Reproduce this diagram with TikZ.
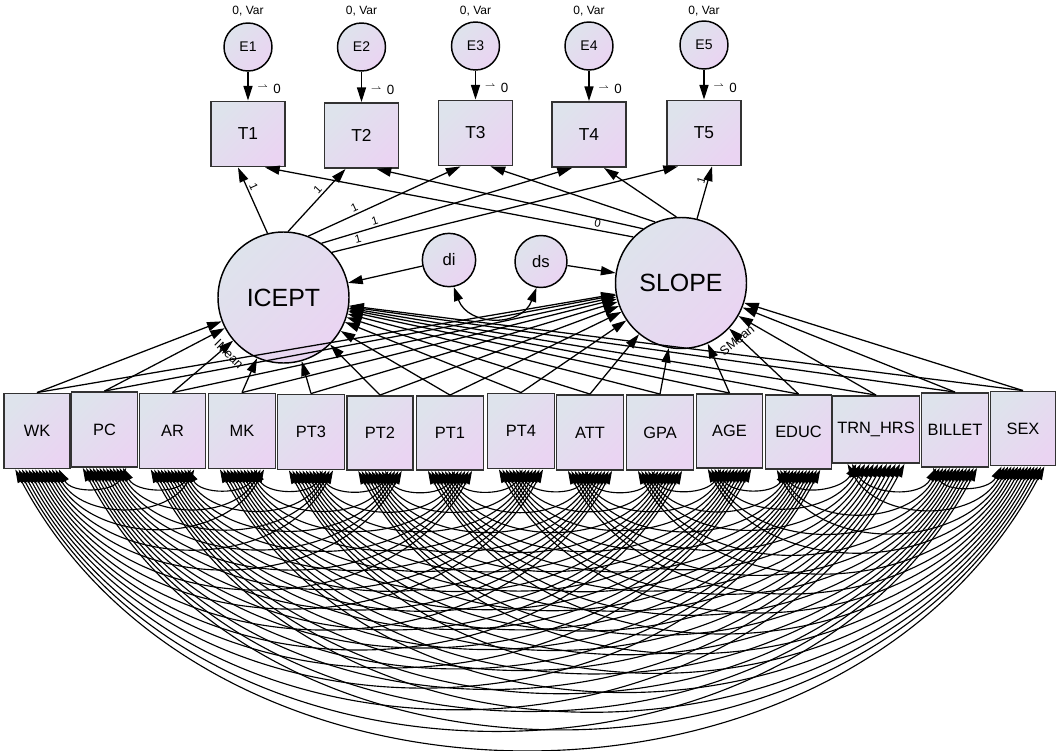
\documentclass[tikz,border=0pt]{standalone}
\usepackage{fontspec}
\setmainfont{Liberation Sans}
\usetikzlibrary{arrows.meta,calc}
\definecolor{shadeTL}{RGB}{222,227,236}
\definecolor{shadeBR}{RGB}{234,212,242}
\definecolor{boxline}{RGB}{50,50,50}
\begin{document}
\begin{tikzpicture}[x=0.75pt,y=-0.75pt,
  fillgrad/.style={top color=shadeTL,bottom color=shadeBR,shading angle=45},
  obsbox/.style={fillgrad,draw=boxline,line width=1.4pt,rectangle,inner sep=0pt},
  latent/.style={fillgrad,draw=black,line width=1.1pt,circle,inner sep=0pt},
  regpath/.style={line width=0.95pt,-{Triangle[length=11pt,width=6.8pt]}},
  dcov/.style={line width=0.95pt,{Triangle[length=10.5pt,width=6.8pt]}-{Triangle[length=10.5pt,width=6.8pt]}},
  covpath/.style={line width=0.85pt,{Triangle[length=10pt,width=6.2pt]}-{Triangle[length=10pt,width=6.2pt]}},
  pathlbl/.style={font=\fontsize{8.5}{10}\selectfont,inner sep=1.5pt},
]
\useasboundingbox (0,0) rectangle (1057,750);

% residual terms and their parameter labels
\foreach \k/\x/\y in {1/248/47,2/361.5/47,3/475.5/46,4/589/46,5/704/45}{
  \node[latent,minimum size=36pt,font=\fontsize{10.5}{12}\selectfont] (e\k) at (\x,\y) {E\k};
  \node[font=\fontsize{9}{10}\selectfont,inner sep=0pt] (ev\k) at (\x,11) {0, Var};
}

% repeated measures
\foreach \k/\x/\y in {1/248/134,2/361.5/135.5,3/475.5/133,4/589/134.5,5/704/133}{
  \node[obsbox,minimum width=55.5pt,minimum height=48.75pt,font=\fontsize{13}{15}\selectfont] (t\k) at (\x,\y) {T\k};
}

% growth factors and their disturbances
\node[latent,minimum size=98.25pt,font=\fontsize{18.7}{22}\selectfont] (icept) at (283.5,297.5) {ICEPT};
\node[latent,minimum size=98.25pt,font=\fontsize{18.7}{22}\selectfont] (slope) at (681,283) {SLOPE};
\node[latent,minimum size=40pt,font=\fontsize{12.5}{14}\selectfont] (di) at (449,260) {di};
\node[latent,minimum size=39pt,font=\fontsize{12.5}{14}\selectfont] (ds) at (541,261.5) {ds};

\node[font=\fontsize{9.5}{11}\selectfont,rotate=-45] (imean) at (229,354) {IMean};
\node[font=\fontsize{9.5}{11}\selectfont,rotate=39] (smean) at (737,340) {SMean};

% time-invariant covariates
\foreach \k/\lab/\x/\y/\w/\h in {
 1/WK/37/431/66/75, 2/PC/104.5/429.5/66/75, 3/AR/172.5/431/66/75, 4/MK/242/431/67/75,
 5/PT3/311/432/67/75, 6/PT2/380/433/66/74, 7/PT1/450/433/67/74, 8/PT4/521/431/67/75,
 9/ATT/590/432.5/67/75, 10/GPA/660/432.5/67/75, 11/AGE/729.5/431/66/74, 12/EDUC/798.5/432/66/74,
 13/TRN\_HRS/876/429.5/87/67, 14/BILLET/955/430/67/74, 15/SEX/1023/428.5/65/74}{
  \node[obsbox,minimum width={\w*0.75pt},minimum height={\h*0.75pt},font=\fontsize{12.3}{14}\selectfont] (b\k) at (\x,\y) {\lab};
}

% residual paths with intercepts
\foreach \k in {1,...,5}{
  \draw[regpath] (e\k) -- (t\k);
  \node[font=\fontsize{10}{12}\selectfont,inner sep=0pt] (h\k) at ($(t\k.north)+(21,-12)$)
    {\raisebox{2.5pt}{\fontsize{7}{7}\selectfont$\rightharpoonup$}\hspace{4pt}0};
}

% intercept loadings
\draw[regpath] (icept.104) -- node[pathlbl,sloped,pos=0.67,above]{1} ($(t1.south)+(-10,0)$);
\draw[regpath] (icept.86) -- node[pathlbl,sloped,pos=0.6,above]{1} ($(t2.south)+(-16,0)$);
\draw[regpath] (icept.68) -- node[pathlbl,sloped,pos=0.32,above]{1} ($(t3.south)+(-15,0)$);
\draw[regpath] (icept.55) -- node[pathlbl,sloped,pos=0.22,above]{1} ($(t4.south)+(-17,0)$);
\draw[regpath] (icept.43) -- node[pathlbl,sloped,pos=0.08,above]{1} ($(t5.south)+(-26,0)$);

% slope loadings
\draw[regpath] (slope.136) -- node[pathlbl,sloped,pos=0.1,above]{0} ($(t1.south)+(17,0)$);
\draw[regpath] (slope.125) -- ($(t2.south)+(15,0)$);
\draw[regpath] (slope.113) -- ($(t3.south)+(15,0)$);
\draw[regpath] (slope.94) -- ($(t4.south)+(15,0)$);
\draw[regpath] (slope.76) -- node[pathlbl,sloped,pos=0.7,above]{1} ($(t5.south)+(8,0)$);

% disturbances
\draw[regpath] (di) -- (icept);
\draw[regpath] (ds) -- (slope);
\draw[dcov] (di.-80) to[out=-70,in=-110,looseness=1.3] (ds.-100);

% covariate effects on the growth factors
\foreach \k in {1,...,15}{
  \draw[regpath] (b\k.north) -- (icept);
  \draw[regpath] (b\k.north) -- (slope);
}

% covariances among the covariates
\foreach \i in {1,...,14}{
  \pgfmathtruncatemacro{\inext}{\i+1}
  \foreach \j in {\inext,...,15}{
    \pgfmathsetmacro{\fa}{0.18+0.64*(15-\j)/13}
    \pgfmathsetmacro{\fb}{0.18+0.64*(14-\i)/13}
    \draw[covpath] ($(b\i.south west)!\fa!(b\i.south east)$)
      to[out=-62,in=-118,looseness=1.05] ($(b\j.south west)!\fb!(b\j.south east)$);
  }
}
\end{tikzpicture}
\end{document}
